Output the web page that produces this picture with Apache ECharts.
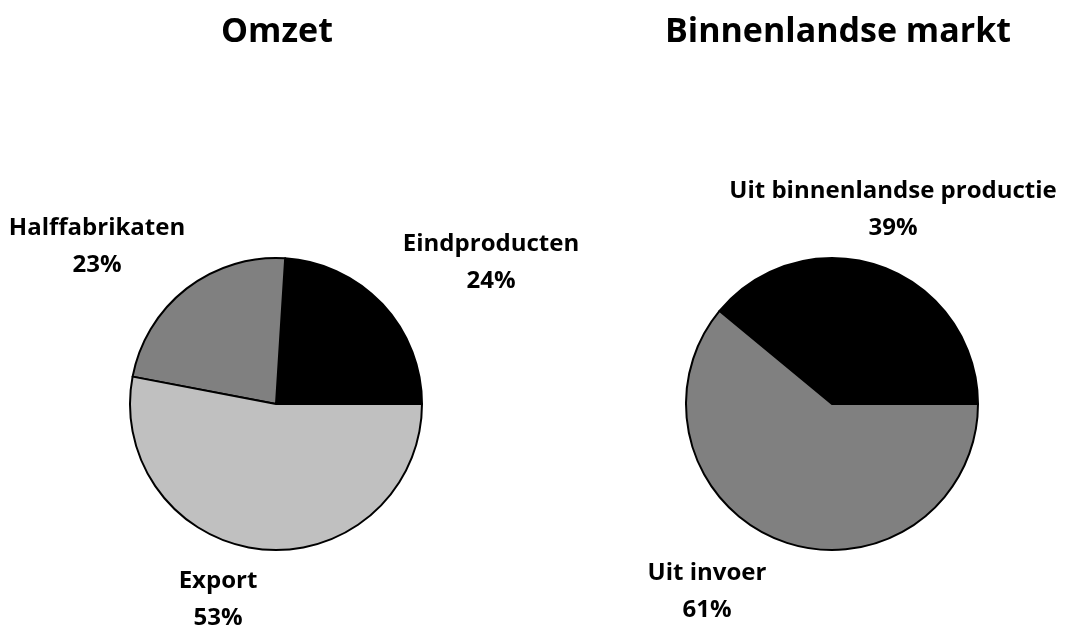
<!DOCTYPE html>
<html>
<head>
<meta charset="utf-8">
<script src="https://cdn.jsdelivr.net/npm/echarts@6/dist/echarts.min.js"></script>
<style>
  html, body { margin: 0; padding: 0; background: #fff; }
  #chart { width: 1070px; height: 636px; }
</style>
</head>
<body>
<div id="chart"></div>
<script>
// data
const omzetNames = ['Eindproducten', 'Halffabrikaten', 'Export'];
const omzetValues = [24, 23, 53];
const marktNames = ['Uit binnenlandse productie', 'Uit invoer'];
const marktValues = [39, 61];
const sliceColors = ['#000000', '#808080', '#c0c0c0'];
const marktColors = ['#000000', '#808080'];

// label anchor points (centre of each label block)
const omzetLabelPos = [[491, 263], [97, 247], [218, 600]];
const marktLabelPos = [[893, 210], [707, 592]];

const font = '"Open Sans", "DejaVu Sans", sans-serif';

function toData(names, values, colors) {
  return names.map((n, i) => ({
    name: n,
    value: values[i],
    itemStyle: { color: colors[i] }
  }));
}

function pieSeries(names, values, colors, center, labelPos) {
  return {
    type: 'pie',
    center: center,
    radius: 146,
    startAngle: 0,
    clockwise: false,
    silent: true,
    animation: false,
    itemStyle: { borderColor: '#000', borderWidth: 2 },
    label: {
      show: true,
      formatter: p => p.name + '\n' + p.value + '%',
      fontFamily: font,
      fontWeight: 'bold',
      fontSize: 24,
      lineHeight: 37,
      color: '#000',
      align: 'center',
      overflow: 'none'
    },
    labelLine: { show: false },
    labelLayout: params => ({
      x: labelPos[params.dataIndex][0],
      y: labelPos[params.dataIndex][1],
      align: 'center',
      verticalAlign: 'middle',
      width: 400
    }),
    data: toData(names, values, colors)
  };
}

const chart = echarts.init(document.getElementById('chart'));
chart.setOption({
  backgroundColor: '#fff',
  animation: false,
  title: [
    {
      text: 'Omzet', left: 272, top: 10, textAlign: 'center',
      textStyle: { fontFamily: font, fontWeight: 'bold', fontSize: 34, color: '#000' }
    },
    {
      text: 'Binnenlandse markt', left: 833, top: 10, textAlign: 'center',
      textStyle: { fontFamily: font, fontWeight: 'bold', fontSize: 34, color: '#000' }
    }
  ],
  series: [
    pieSeries(omzetNames, omzetValues, sliceColors, [276, 404], omzetLabelPos),
    pieSeries(marktNames, marktValues, marktColors, [832, 404], marktLabelPos)
  ]
});
</script>
</body>
</html>
